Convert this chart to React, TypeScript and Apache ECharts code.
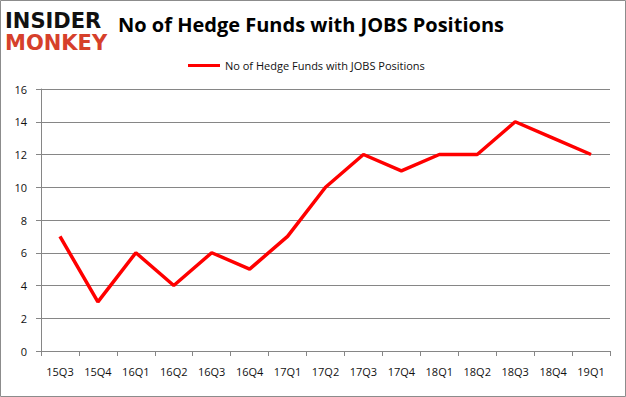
import React, { useEffect, useRef } from "react";
import * as echarts from "echarts";

const categories = ["15Q3", "15Q4", "16Q1", "16Q2", "16Q3", "16Q4", "17Q1", "17Q2", "17Q3", "17Q4", "18Q1", "18Q2", "18Q3", "18Q4", "19Q1"];
const hedgeFunds = [7, 3, 6, 4, 6, 5, 7, 10, 12, 11, 12, 12, 14, 13, 12];
const seriesName = "No of Hedge Funds with JOBS Positions";
const titleText = "No of Hedge Funds with JOBS Positions";

export default function App() {
  const ref = useRef<HTMLDivElement>(null);
  useEffect(() => {
    document.body.style.margin = "0";
    const chart = echarts.init(ref.current!, null, { renderer: "svg" });
    chart.setOption({
      animation: false,
      backgroundColor: "#ffffff",
      textStyle: { fontFamily: "Open Sans" },
      graphic: [
        {
          type: "rect",
          shape: { x: 0.5, y: 0.5, width: 625, height: 396 },
          style: { fill: "none", stroke: "#8c8c8c", lineWidth: 1 },
        },
        {
          type: "text",
          x: 5,
          y: 10,
          style: { text: "INSIDER", fill: "#111111", font: "900 21px 'DejaVu Sans'", lineHeight: 21 },
        },
        {
          type: "text",
          x: 5,
          y: 32,
          style: { text: "MONKEY", fill: "#d6402b", font: "900 21px 'DejaVu Sans'", lineHeight: 21 },
        },
        {
          type: "text",
          x: 118,
          y: 14,
          style: { text: titleText, fill: "#000000", font: "bold 20px 'Open Sans'" },
        },
      ],
      legend: {
        top: 55,
        left: 183,
        itemWidth: 32,
        itemHeight: 3,
        icon: "rect",
        itemGap: 6,
        textStyle: { fontSize: 11, color: "#111", fontFamily: "Open Sans" },
        data: [{ name: seriesName, itemStyle: { color: "#ff0000" } }],
      },
      grid: { left: 41, right: 16, top: 89, bottom: 46, containLabel: false },
      xAxis: {
        type: "category",
        data: categories,
        boundaryGap: true,
        axisLine: { lineStyle: { color: "#868686" } },
        axisTick: { show: true, length: 5, interval: 0, lineStyle: { color: "#868686" } },
        axisLabel: { color: "#111", fontSize: 11, margin: 15, interval: 0, fontFamily: "Open Sans" },
      },
      yAxis: {
        type: "value",
        min: 0,
        max: 16,
        interval: 2,
        axisLine: { show: true, lineStyle: { color: "#868686" } },
        axisTick: { show: true, length: 5, lineStyle: { color: "#868686" } },
        axisLabel: { color: "#111", fontSize: 11, margin: 14, fontFamily: "Open Sans" },
        splitLine: { lineStyle: { color: "#868686", width: 1 } },
      },
      series: [
        {
          name: seriesName,
          type: "line",
          data: hedgeFunds,
          symbol: "none",
          lineStyle: { color: "#ff0000", width: 3.5 },
          itemStyle: { color: "#ff0000" },
        },
      ],
    });
    return () => chart.dispose();
  }, []);
  return <div ref={ref} style={{ width: 626, height: 397 }} />;
}
